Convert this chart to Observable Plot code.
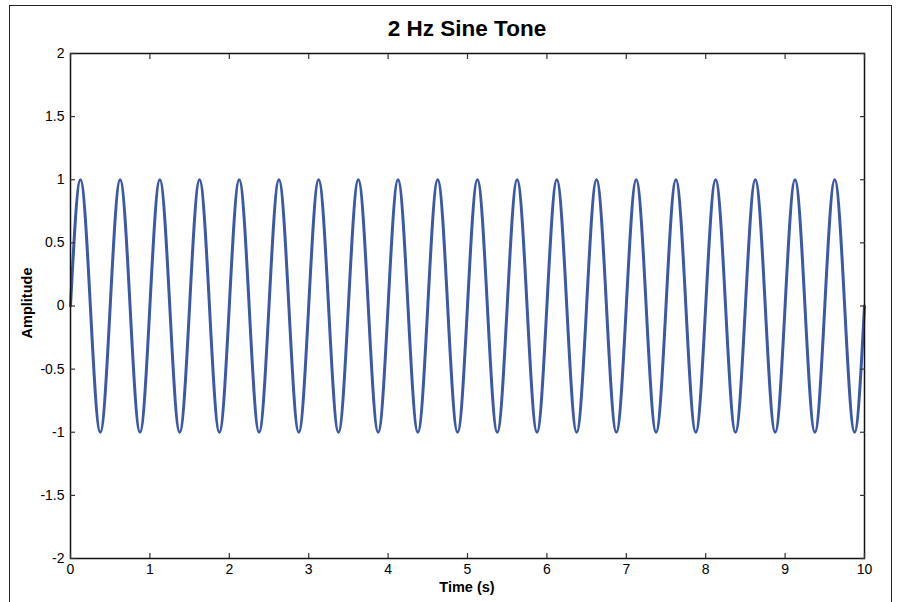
<!DOCTYPE html>
<html>
<head>
<meta charset="utf-8">
<script src="https://cdn.jsdelivr.net/npm/d3@7"></script>
<script src="https://cdn.jsdelivr.net/npm/@observablehq/plot@0.6"></script>
<style>
  html, body { margin: 0; padding: 0; background: #fff; }
  #wrap { position: relative; width: 902px; height: 602px; overflow: hidden; font-family: "Liberation Sans", Arial, sans-serif; }
  #outer { position: absolute; left: 9px; top: 5px; width: 883px; height: 640px; border: 1.5px solid #222; box-sizing: border-box; }
  #title { position: absolute; left: 70px; width: 794px; top: 16px; text-align: center; font-weight: bold; font-size: 22.5px; color: #000; }
  #xlabel { position: absolute; left: 70px; width: 794px; top: 579px; text-align: center; font-weight: bold; font-size: 14.5px; color: #000; }
  #ylabel { position: absolute; left: 27px; top: 303px; transform: translate(-50%, -50%) rotate(-90deg); font-weight: bold; font-size: 14.5px; color: #000; white-space: nowrap; }
  #chart { position: absolute; left: 0; top: 0; }
</style>
</head>
<body>
<div id="wrap">
  <div id="outer"></div>
  <div id="chart"></div>
  <div id="title">2 Hz Sine Tone</div>
  <div id="xlabel">Time (s)</div>
  <div id="ylabel">Amplitude</div>
</div>
<script>
// Readings of the waveform every 1/8 s (zero crossings, peaks, troughs)
const sampleRate = 8;
const amplitude = [
  0, 1, 0, -1, 0, 1, 0, -1, 0, 1, 0, -1, 0, 1, 0, -1, 0, 1, 0, -1,
  0, 1, 0, -1, 0, 1, 0, -1, 0, 1, 0, -1, 0, 1, 0, -1, 0, 1, 0, -1,
  0, 1, 0, -1, 0, 1, 0, -1, 0, 1, 0, -1, 0, 1, 0, -1, 0, 1, 0, -1,
  0, 1, 0, -1, 0, 1, 0, -1, 0, 1, 0, -1, 0, 1, 0, -1, 0, 1, 0, -1,
  0
];
const time = amplitude.map((_, i) => i / sampleRate);
const xTicks = [0, 1, 2, 3, 4, 5, 6, 7, 8, 9, 10];
const yTicks = [-2, -1.5, -1, -0.5, 0, 0.5, 1, 1.5, 2];

const data = time.map((t, i) => ({t, a: amplitude[i]}));
const fmt = d => String(d);
const blank = () => "";

const chart = Plot.plot({
  width: 902,
  height: 602,
  marginLeft: 70,
  marginRight: 38,
  marginTop: 53,
  marginBottom: 44,
  style: {fontFamily: '"Liberation Sans", Arial, sans-serif', fontSize: "14px", color: "#000", background: "transparent"},
  x: {domain: [0, 10]},
  y: {domain: [-2, 2]},
  marks: [
    Plot.line(data, {x: "t", y: "a", curve: "natural", stroke: "#3b59a8", strokeWidth: 3}),
    Plot.frame({stroke: "#111", strokeWidth: 1.5}),
    Plot.axisX({anchor: "bottom", ticks: xTicks, tickFormat: fmt, tickSize: -5, tickPadding: 11, label: null, stroke: "#333", strokeWidth: 1.2}),
    Plot.axisX({anchor: "top", ticks: xTicks, tickFormat: blank, tickSize: -5, label: null, stroke: "#333", strokeWidth: 1.2}),
    Plot.axisY({anchor: "left", ticks: yTicks, tickFormat: fmt, tickSize: -5, tickPadding: 11, label: null, stroke: "#333", strokeWidth: 1.2}),
    Plot.axisY({anchor: "right", ticks: yTicks, tickFormat: blank, tickSize: -5, label: null, stroke: "#333", strokeWidth: 1.2})
  ]
});
document.getElementById("chart").appendChild(chart);
</script>
</body>
</html>
